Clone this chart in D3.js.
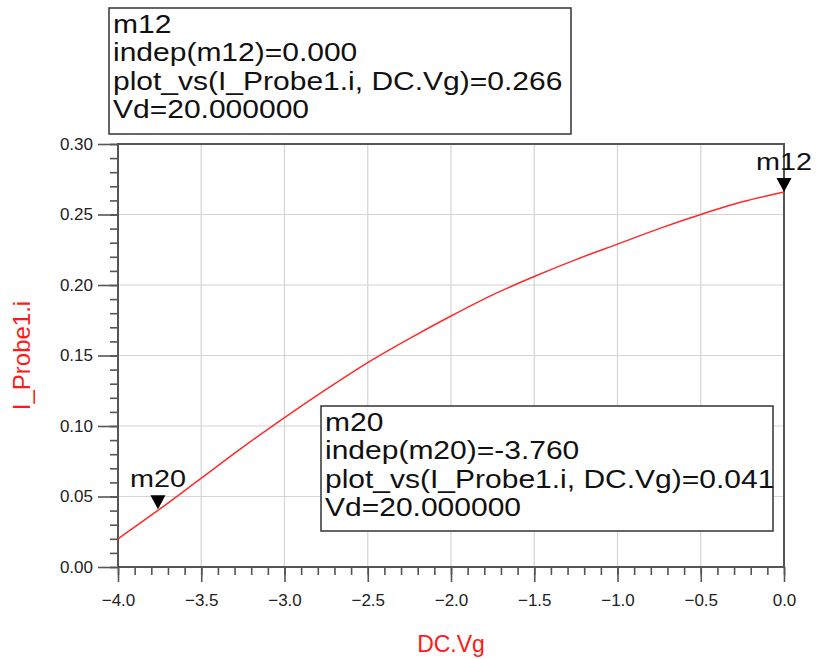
<!DOCTYPE html>
<html>
<head>
<meta charset="utf-8">
<script src="https://cdn.jsdelivr.net/npm/d3@7"></script>
<style>
  body { margin: 0; background: #fff; }
  svg { display: block; }
</style>
</head>
<body>
<script>
// data
const vg = [-4.0, -3.75, -3.5, -3.25, -3.0, -2.75, -2.5, -2.25, -2.0, -1.75, -1.5, -1.25, -1.0, -0.75, -0.5, -0.25, 0.0];
const iProbe = [0.020, 0.041, 0.063, 0.085, 0.106, 0.126, 0.145, 0.162, 0.178, 0.193, 0.206, 0.218, 0.229, 0.240, 0.250, 0.259, 0.266];
const xTicks = [-4.0, -3.5, -3.0, -2.5, -2.0, -1.5, -1.0, -0.5, 0.0];
const yTicks = [0.00, 0.05, 0.10, 0.15, 0.20, 0.25, 0.30];
const markerNames = ["m12", "m20"];
const markerX = [0.0, -3.76];
const markerY = [0.266, 0.041];
const markerText = [
    ["m12", "indep(m12)=0.000", "plot_vs(I_Probe1.i, DC.Vg)=0.266", "Vd=20.000000"],
    ["m20", "indep(m20)=-3.760", "plot_vs(I_Probe1.i, DC.Vg)=0.041", "Vd=20.000000"]
];

const width = 817, height = 659;
const plotL = 118, plotR = 784, plotT = 144, plotB = 567;
const font = "Arial, 'Liberation Sans', sans-serif";
const stretch = 1.2; // marker text is drawn a bit wider than the font

const svg = d3.select("body").append("svg")
    .attr("width", width)
    .attr("height", height);

const x = d3.scaleLinear().domain([-4, 0]).range([plotL, plotR]);
const y = d3.scaleLinear().domain([0, 0.3]).range([plotB, plotT]);

// grid
svg.append("g").selectAll("line")
    .data(xTicks)
    .enter().append("line")
    .attr("x1", d => x(d)).attr("x2", d => x(d))
    .attr("y1", plotT).attr("y2", plotB)
    .attr("stroke", "#d4d4d4").attr("stroke-width", 1.2);

svg.append("g").selectAll("line")
    .data(yTicks)
    .enter().append("line")
    .attr("x1", plotL).attr("x2", plotR)
    .attr("y1", d => y(d)).attr("y2", d => y(d))
    .attr("stroke", "#d4d4d4").attr("stroke-width", 1.2);

// axes with minor ticks
const xMinor = d3.range(-40, 1).map(d => d / 10);
const yMinor = d3.range(0, 31).map(d => d / 100);

svg.append("g")
    .attr("transform", `translate(0,${plotB})`)
    .call(d3.axisBottom(x).tickValues(xMinor).tickSize(8).tickFormat(""))
    .call(g => g.select(".domain").remove());
svg.append("g")
    .attr("transform", `translate(0,${plotB})`)
    .call(d3.axisBottom(x).tickValues(xTicks).tickSize(15).tickPadding(12).tickFormat(d3.format(".1f")))
    .call(g => g.select(".domain").remove())
    .selectAll("text")
    .style("font-family", font).style("font-size", "17px").attr("fill", "#222");

svg.append("g")
    .attr("transform", `translate(${plotL},0)`)
    .call(d3.axisLeft(y).tickValues(yMinor).tickSize(8).tickFormat(""))
    .call(g => g.select(".domain").remove());
svg.append("g")
    .attr("transform", `translate(${plotL},0)`)
    .call(d3.axisLeft(y).tickValues(yTicks).tickSize(20).tickPadding(5).tickFormat(d3.format(".2f")))
    .call(g => g.select(".domain").remove())
    .selectAll("text")
    .style("font-family", font).style("font-size", "17px").attr("fill", "#222");

svg.selectAll(".tick line").attr("stroke", "#555").attr("stroke-width", 1.6);

// frame
svg.append("rect")
    .attr("x", plotL).attr("y", plotT)
    .attr("width", plotR - plotL).attr("height", plotB - plotT)
    .attr("fill", "none").attr("stroke", "#555").attr("stroke-width", 2);

// curve
const line = d3.line()
    .x((d, i) => x(vg[i]))
    .y(d => y(d))
    .curve(d3.curveMonotoneX);

svg.append("path")
    .datum(iProbe)
    .attr("d", line)
    .attr("fill", "none")
    .attr("stroke", "#ff2a2a")
    .attr("stroke-width", 1.5);

// marker triangles and labels
const markers = markerNames.map((name, i) => ({ name: name, px: x(markerX[i]), py: y(markerY[i]) }));

svg.append("g").selectAll("path")
    .data(markers)
    .enter().append("path")
    .attr("d", d => `M${d.px},${d.py} L${d.px - 7.5},${d.py - 14} L${d.px + 7.5},${d.py - 14} Z`)
    .attr("fill", "#000");

svg.append("g").selectAll("text")
    .data(markers)
    .enter().append("text")
    .attr("transform", d => `translate(${d.px},${d.py - 22}) scale(${stretch},1)`)
    .attr("text-anchor", "middle")
    .style("font-family", font)
    .style("font-size", "24px")
    .attr("fill", "#111")
    .text(d => d.name);

// readout boxes
const boxPos = [{ x: 109, y: 8, w: 462, h: 126 }, { x: 321, y: 406, w: 452, h: 125 }];

markerText.forEach((lines, i) => {
    const b = boxPos[i];
    const g = svg.append("g");
    g.append("rect")
        .attr("x", b.x).attr("y", b.y)
        .attr("width", b.w).attr("height", b.h)
        .attr("fill", "#fff")
        .attr("stroke", "#333").attr("stroke-width", 1.5);
    g.selectAll("text")
        .data(lines)
        .enter().append("text")
        .attr("transform", (d, j) => `translate(${b.x + 4},${b.y + 25 + j * 28.3}) scale(${stretch},1)`)
        .style("font-family", font)
        .style("font-size", "25px")
        .attr("fill", "#111")
        .text(d => d);
});

// axis titles
svg.append("text")
    .attr("x", (plotL + plotR) / 2)
    .attr("y", 652)
    .attr("text-anchor", "middle")
    .style("font-family", font)
    .style("font-size", "23px")
    .attr("fill", "#ff1a1a")
    .text("DC.Vg");

svg.append("text")
    .attr("transform", `translate(30,${(plotT + plotB) / 2}) rotate(-90)`)
    .attr("text-anchor", "middle")
    .style("font-family", font)
    .style("font-size", "24px")
    .attr("fill", "#ff1a1a")
    .text("I_Probe1.i");
</script>
</body>
</html>
